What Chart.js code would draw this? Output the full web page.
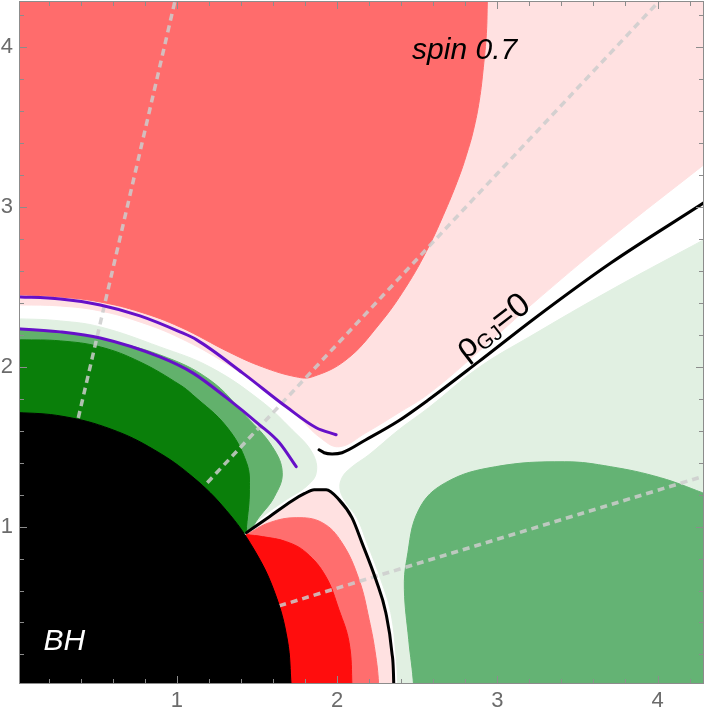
<!DOCTYPE html>
<html lang="en">
<head>
<meta charset="UTF-8">
<title>rho GJ, spin 0.7</title>
<script src="https://cdn.jsdelivr.net/npm/chart.js"></script>
<style>
  body { margin: 0; background: #fff; }
  #wrap { width: 706px; height: 720px; }
</style>
</head>
<body>
<div id="wrap"><canvas id="rho" width="706" height="720"></canvas></div>
<script>
// axis ticks
const xTicks = [1, 2, 3, 4];
const yTicks = [1, 2, 3, 4];
const minorTicks = [0.2, 0.4, 0.6, 0.8, 1, 1.2, 1.4, 1.6, 1.8, 2, 2.2, 2.4, 2.6, 2.8, 3, 3.2, 3.4, 3.6, 3.8, 4, 4.2];

// region boundaries, [x, y]
const horizon = [[1.714, 0], [1.69, 0.29], [1.61, 0.59], [1.48, 0.86], [1.31, 1.10], [1.10, 1.31], [0.86, 1.48], [0.59, 1.61], [0.29, 1.69], [0, 1.714], [-0.2, 1.714], [-0.2, -0.2], [1.714, -0.2]];
const pinkUpper = [[-0.2, 2.39], [0.025, 2.3875], [0.273, 2.381], [0.522, 2.35], [0.77, 2.281], [1.019, 2.181], [1.311, 2.019], [1.578, 1.831], [1.764, 1.681], [1.888, 1.5625], [2.012, 1.5], [2.18, 1.5875], [2.385, 1.7125], [2.571, 1.831], [2.882, 2.094], [3.211, 2.3875], [3.708, 2.806], [4.286, 3.2625], [4.5, 3.43], [4.5, 4.5], [-0.2, 4.5]];
const redBlob = [[-0.2, 2.45], [0.025, 2.45], [0.273, 2.4375], [0.522, 2.406], [0.77, 2.344], [1.019, 2.25], [1.33, 2.09], [1.534, 2.0], [1.745, 1.9375], [1.845, 1.9375], [2.056, 2.044], [2.26, 2.2625], [2.43, 2.5], [2.571, 2.75], [2.677, 2.981], [2.758, 3.181], [2.807, 3.325], [2.851, 3.481], [2.888, 3.669], [2.913, 3.875], [2.932, 4.0875], [2.938, 4.294], [2.945, 4.5], [-0.2, 4.5]];
const lightGreenLeft = [[-0.2, 2.30], [0.025, 2.30], [0.273, 2.2875], [0.522, 2.25], [0.894, 2.125], [1.205, 2.0], [1.516, 1.794], [1.72, 1.606], [1.845, 1.4625], [1.87, 1.3375], [1.807, 1.25], [1.683, 1.169], [1.528, 1.056], [1.435, 0.9625], [0, 0], [-0.2, 0]];
const midGreenLeft = [[-0.2, 2.2375], [0.025, 2.2375], [0.273, 2.219], [0.522, 2.175], [0.894, 2.075], [1.205, 1.919], [1.435, 1.6875], [1.596, 1.5], [1.658, 1.3375], [1.609, 1.1875], [1.516, 1.0625], [1.435, 0.9625], [0, 0], [-0.2, 0]];
const darkGreen = [[-0.2, 2.17], [0.025, 2.169], [0.273, 2.1625], [0.522, 2.125], [0.77, 2.031], [1.019, 1.8875], [1.099, 1.825], [1.311, 1.625], [1.435, 1.40], [1.453, 1.231], [1.435, 1.0], [1.429, 0.969], [0, 0], [-0.2, 0]];
const lightGreenRight = [[4.286, 2.794], [3.708, 2.481], [3.211, 2.194], [2.882, 1.994], [2.571, 1.744], [2.385, 1.606], [2.199, 1.45], [2.087, 1.369], [2.031, 1.306], [2.019, 1.231], [2.056, 1.15], [2.124, 1.056], [2.186, 0.9], [2.273, 0.669], [2.335, 0.4625], [2.366, 0.2125], [2.379, 0], [2.38, -0.2], [4.5, -0.2], [4.5, 2.794]];
const greenBlob = [[2.478, -0.2], [2.478, 0], [2.447, 0.294], [2.42, 0.606], [2.435, 0.794], [2.51, 1.106], [2.677, 1.275], [2.988, 1.375], [3.42, 1.406], [3.708, 1.375], [4.019, 1.306], [4.28, 1.2125], [4.5, 1.13], [4.5, -0.2]];
const salmonBand = [[1.435, 0.95], [1.578, 1.025], [1.745, 1.056], [1.907, 1.025], [2.03, 0.9], [2.137, 0.669], [2.2, 0.419], [2.242, 0.1875], [2.26, 0], [2.262, -0.2], [0, -0.2]];
const redBand = [[1.435, 0.95], [1.534, 0.9375], [1.683, 0.906], [1.807, 0.8375], [1.93, 0.6875], [2.012, 0.48], [2.075, 0.275], [2.093, 0], [2.095, -0.2], [0, -0.2]];

// rho_GJ = 0 contour and the two purple curves
const zeroUpper = [[1.888, 1.481], [1.919, 1.4625], [1.969, 1.455], [2.031, 1.4625], [2.18, 1.544], [2.385, 1.663], [2.571, 1.794], [2.882, 2.031], [3.236, 2.306], [3.708, 2.65], [4.286, 3.025], [4.4, 3.1]];
const zeroLower = [[1.435, 0.9625], [1.578, 1.0625], [1.72, 1.1625], [1.795, 1.206], [1.857, 1.231], [1.932, 1.231], [2.012, 1.169], [2.093, 1.056], [2.155, 0.9], [2.242, 0.669], [2.304, 0.4625], [2.342, 0.2125], [2.354, 0], [2.356, -0.2]];
const purpleUpper = [[-0.05, 2.44], [0.025, 2.4375], [0.273, 2.425], [0.522, 2.3875], [0.77, 2.319], [1.019, 2.219], [1.124, 2.169], [1.41, 1.9625], [1.683, 1.75], [1.87, 1.619], [1.994, 1.575]];
const purpleLower = [[-0.05, 2.24], [0.025, 2.2375], [0.273, 2.219], [0.522, 2.181], [0.894, 2.0625], [1.099, 1.9625], [1.311, 1.806], [1.516, 1.6375], [1.64, 1.525], [1.745, 1.375]];

// dotted guide lines
const guide1 = [[0.385, 1.68], [1.0, 4.34]];
const guide2 = [[1.19, 1.275], [4.02, 4.30]];
const guide3 = [[1.638, 0.504], [4.40, 1.35]];

const toPts = arr => arr.map(([x, y]) => ({ x, y }));

function area(points, color) {
    return { data: toPts(points), showLine: true, fill: 'shape', backgroundColor: color,
             borderColor: color, borderWidth: 1, pointRadius: 0, tension: 0.4, clip: 0 };
}
function curve(points, color, width, dash) {
    return { data: toPts(points), showLine: true, fill: false, borderColor: color,
             borderWidth: width, borderDash: dash || [], pointRadius: 0,
             cubicInterpolationMode: dash ? 'default' : 'monotone', tension: 0.4,
             borderCapStyle: dash ? 'butt' : 'round', clip: 0 };
}

// painted bottom to top
const layers = [
    area(pinkUpper, '#ffe1e1'),
    area([...zeroLower, [0, -0.2]], '#ffe1e1'),
    area(lightGreenLeft, '#e1f0e2'),
    area(lightGreenRight, '#e1f0e2'),
    area(redBlob, '#ff6c6c'),
    area(salmonBand, '#ff6e6e'),
    area(redBand, '#ff0d0d'),
    area(greenBlob, '#64b374'),
    area(midGreenLeft, '#62b16c'),
    area(darkGreen, '#0a7f0a'),
    curve(guide1, 'rgba(205,205,205,0.85)', 3.5, [7, 5]),
    curve(guide2, 'rgba(205,205,205,0.85)', 3.5, [7, 5]),
    curve(guide3, 'rgba(205,205,205,0.85)', 3.5, [7, 5]),
    area(horizon, '#000000'),
    curve(purpleUpper, '#6610c8', 3),
    curve(purpleLower, '#6610c8', 3),
    curve(zeroUpper, '#000000', 3),
    curve(zeroLower, '#000000', 3)
];
layers.forEach((d, i) => { d.order = layers.length - i; });

const overlay = {
    id: 'overlay',
    beforeDraw(chart) {
        const ctx = chart.ctx;
        ctx.save();
        ctx.fillStyle = '#ffffff';
        ctx.fillRect(0, 0, chart.width, chart.height);
        ctx.restore();
    },
    afterDraw(chart) {
        const { ctx, chartArea: a, scales: { x, y } } = chart;
        ctx.save();
        ctx.strokeStyle = '#8c8c8c';
        ctx.lineWidth = 1;
        ctx.strokeRect(a.left + 0.5, a.top + 0.5, a.right - a.left - 1, a.bottom - a.top - 1);
        ctx.beginPath();
        minorTicks.forEach(v => {
            const len = xTicks.includes(v) ? 8 : 5;
            const px = Math.round(x.getPixelForValue(v)) + 0.5;
            ctx.moveTo(px, a.bottom); ctx.lineTo(px, a.bottom - len);
            ctx.moveTo(px, a.top); ctx.lineTo(px, a.top + len);
            const py = Math.round(y.getPixelForValue(v)) + 0.5;
            ctx.moveTo(a.left, py); ctx.lineTo(a.left + len, py);
            ctx.moveTo(a.right, py); ctx.lineTo(a.right - len, py);
        });
        ctx.stroke();

        // labels
        ctx.fillStyle = '#000';
        ctx.font = 'italic 30px "Liberation Sans", Arial, sans-serif';
        ctx.textAlign = 'right';
        ctx.textBaseline = 'alphabetic';
        ctx.fillText('spin 0.7', x.getPixelForValue(3.124), y.getPixelForValue(3.93));

        ctx.fillStyle = '#fff';
        ctx.textAlign = 'left';
        ctx.fillText('BH', x.getPixelForValue(0.168), y.getPixelForValue(0.225));

        ctx.fillStyle = '#000';
        ctx.translate(x.getPixelForValue(2.80), y.getPixelForValue(2.04));
        ctx.rotate(-37.8 * Math.PI / 180);
        ctx.font = '34px "Liberation Sans", Arial, sans-serif';
        ctx.fillText('ρ', 0, 0);
        let w = ctx.measureText('ρ').width;
        ctx.font = '21px "Liberation Sans", Arial, sans-serif';
        ctx.fillText('GJ', w, 4);
        w += ctx.measureText('GJ').width;
        ctx.font = '34px "Liberation Sans", Arial, sans-serif';
        ctx.fillText('=0', w, 0);
        ctx.restore();
    }
};

const tickFont = { family: 'Liberation Sans', size: 22 };

new Chart(document.getElementById('rho'), {
    type: 'scatter',
    data: { datasets: layers },
    options: {
        responsive: false,
        animation: false,
        devicePixelRatio: 1,
        layout: { padding: { top: 1, right: 2, left: 0, bottom: 0 } },
        plugins: { legend: { display: false }, tooltip: { enabled: false } },
        scales: {
            x: {
                type: 'linear', min: 0.015, max: 4.29,
                grid: { display: false, drawTicks: false },
                border: { display: false },
                ticks: { font: tickFont, color: '#6b6b6b', padding: 4, maxRotation: 0 },
                afterBuildTicks: s => { s.ticks = xTicks.map(v => ({ value: v })); },
                afterFit: s => { s.height = 36; s.paddingLeft = 0; s.paddingRight = 0; }
            },
            y: {
                type: 'linear', min: 0.015, max: 4.29,
                grid: { display: false, drawTicks: false },
                border: { display: false },
                ticks: { font: tickFont, color: '#6b6b6b', padding: 6 },
                afterBuildTicks: s => { s.ticks = yTicks.map(v => ({ value: v })); },
                afterFit: s => { s.width = 19; s.paddingTop = 0; s.paddingBottom = 0; }
            }
        }
    },
    plugins: [overlay]
});
</script>
</body>
</html>
